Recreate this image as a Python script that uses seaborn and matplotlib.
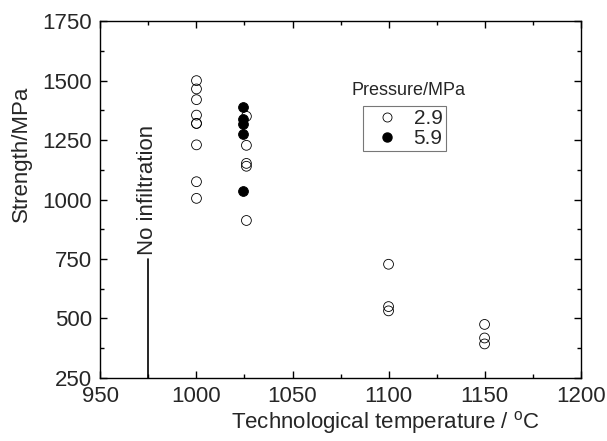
import matplotlib
matplotlib.use("Agg")
import matplotlib.pyplot as plt
from matplotlib.ticker import MultipleLocator
from matplotlib.lines import Line2D
import seaborn as sns
import pandas as pd

# Data
temp_29 = [1000, 1000, 1000, 1000, 1000, 1000, 1000, 1000, 1000,
           1026, 1026, 1026, 1026, 1026,
           1100, 1100, 1100,
           1150, 1150, 1150]
strength_29 = [1500, 1465, 1420, 1355, 1320, 1320, 1230, 1075, 1005,
               1350, 1228, 1152, 1140, 912,
               728, 550, 532,
               475, 418, 393]
temp_59 = [1024, 1024, 1024, 1024, 1024]
strength_59 = [1388, 1340, 1316, 1275, 1038]

pressure_labels = ["2.9", "5.9"]
no_infil_x = 975
no_infil_top = 750

df29 = pd.DataFrame({"T": temp_29, "S": strength_29})
df59 = pd.DataFrame({"T": temp_59, "S": strength_59})

sns.set_style("white")
plt.rcParams["font.family"] = ["Liberation Sans", "DejaVu Sans"]

FS = 16
fig = plt.figure(figsize=(6.07, 4.41), dpi=100)
ax = fig.add_axes([0.1655, 0.143, 0.791, 0.809])

sns.scatterplot(data=df29, x="T", y="S", ax=ax, marker="o", s=50,
                facecolor="none", edgecolor="black", linewidth=0.6, legend=False)
sns.scatterplot(data=df59, x="T", y="S", ax=ax, marker="o", s=50,
                color="black", edgecolor="black", linewidth=0.6, legend=False)

ax.plot([no_infil_x, no_infil_x], [250, no_infil_top], color="black", lw=1.2)
ax.text(no_infil_x - 0.6, no_infil_top + 18, "No infiltration", rotation=90,
        ha="center", va="bottom", fontsize=FS)

ax.set_xlim(950, 1200)
ax.set_ylim(250, 1750)
ax.xaxis.set_major_locator(MultipleLocator(50))
ax.xaxis.set_minor_locator(MultipleLocator(25))
ax.yaxis.set_major_locator(MultipleLocator(250))
ax.yaxis.set_minor_locator(MultipleLocator(125))
ax.tick_params(which="both", direction="in", top=True, right=True,
               bottom=True, left=True, width=1.0, color="black")
ax.tick_params(which="major", length=5, labelsize=FS)
ax.tick_params(axis="y", which="major", pad=6)
ax.tick_params(axis="x", which="major", pad=6)
ax.tick_params(which="minor", length=3)
for sp in ax.spines.values():
    sp.set_color("black")
    sp.set_linewidth(1.0)

ax.set_xlabel("Technological temperature / $\\mathregular{^oC}$", fontsize=FS)
ax.set_ylabel("Strength/MPa", fontsize=FS)
ax.xaxis.set_label_coords(0.594, -0.088)
ax.yaxis.set_label_coords(-0.142, 0.627)

handles = [
    Line2D([], [], marker="o", ls="none", markerfacecolor="none",
           markeredgecolor="black", markersize=6.5, markeredgewidth=0.6),
    Line2D([], [], marker="o", ls="none", markerfacecolor="black",
           markeredgecolor="black", markersize=6.5),
]
leg = ax.legend(handles, pressure_labels, loc="upper left",
                bbox_to_anchor=(0.546, 0.762), frameon=True, fancybox=False,
                edgecolor="#555555", fontsize=15, handletextpad=0.3,
                borderpad=0.15, labelspacing=0.05, handlelength=2.0,
                borderaxespad=0)
leg.get_frame().set_linewidth(0.8)
ax.text(0.523, 0.807, "Pressure/MPa", transform=ax.transAxes, fontsize=13,
        ha="left", va="center")

fig.savefig("out.png", dpi=100)
